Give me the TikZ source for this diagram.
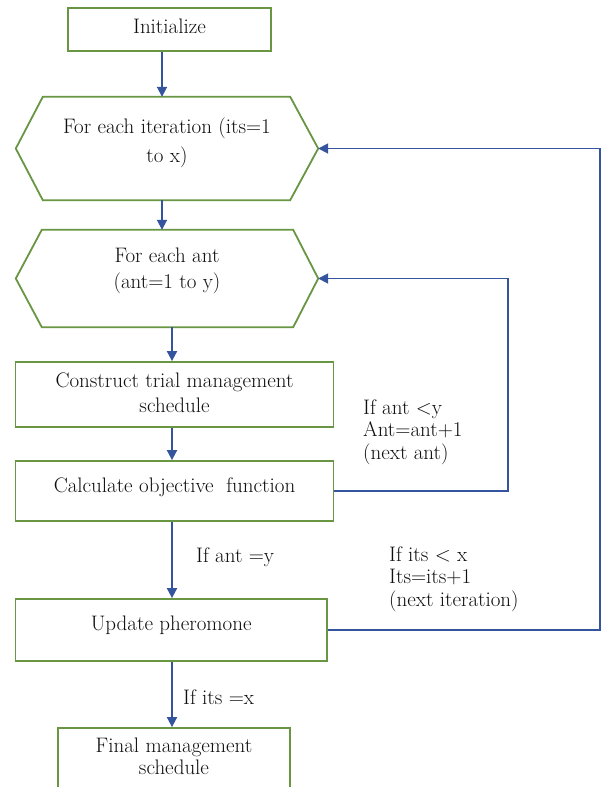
\documentclass[tikz,border=0pt]{standalone}
\usetikzlibrary{arrows.meta}
\definecolor{boxgreen}{RGB}{104,150,66}
\definecolor{linkblue}{RGB}{52,84,158}
\definecolor{txtcol}{RGB}{15,15,15}
\newcommand{\boxtext}[2]{\smash{\raisebox{#1}{\begin{tabular}{@{}c@{}}#2\end{tabular}}}}
\begin{document}
\begin{tikzpicture}[x=1pt,y=-1pt,
  every node/.style={font=\fontsize{21}{25}\selectfont, text=txtcol, inner sep=0pt},
  procbox/.style={draw=boxgreen, line width=1.8pt, rectangle},
  hexbox/.style={rectangle},
  hexline/.style={draw=boxgreen, line width=1.8pt, line join=miter},
  arr/.style={draw=linkblue, line width=1.8pt, -{Triangle[length=10pt,width=10pt]}},
  cond/.style={align=left, anchor=west, font=\fontsize{21}{22.5}\selectfont}
]
\useasboundingbox (0,0) rectangle (605,787);
\fill[white] (0,0) rectangle (605,787);

% columns
\coordinate (colA) at (162,0);
\coordinate (colB) at (172,0);
\coordinate (rin) at (508,0);
\coordinate (rout) at (600,0);

% nodes
\node[procbox, minimum width=203pt, minimum height=43pt] (init) at (169.5,29.5) {\boxtext{-4pt}{Initialize}};

\node[hexbox, minimum width=302pt, minimum height=103pt] (h1) at (167,148.5)
  {\boxtext{0pt}{For each iteration (its=1\\[4pt] to x)}};
\draw[hexline] ([xshift=27pt]h1.north west) -- ([xshift=-28pt]h1.north east) -- (h1.east)
  -- ([xshift=-28pt]h1.south east) -- ([xshift=27pt]h1.south west) -- (h1.west) -- cycle;

\node[hexbox, minimum width=302pt, minimum height=97pt] (h2) at (167,278.5)
  {\boxtext{3pt}{For each ant\\[1pt] (ant=1 to y)}};
\draw[hexline] ([xshift=26pt]h2.north west) -- ([xshift=-25pt]h2.north east) -- (h2.east)
  -- ([xshift=-25pt]h2.south east) -- ([xshift=26pt]h2.south west) -- (h2.west) -- cycle;

\node[procbox, minimum width=318pt, minimum height=65pt] (cons) at (174.5,394.5)
  {\boxtext{-6pt}{Construct trial management\\ schedule}};
\node[procbox, minimum width=318pt, minimum height=60pt] (calc) at (174.5,491)
  {\boxtext{-1.5pt}{Calculate objective\ \ function}};
\node[procbox, minimum width=311.5pt, minimum height=62pt] (upd) at (171.25,630)
  {\boxtext{-1pt}{Update pheromone}};
\node[procbox, minimum width=232.5pt, minimum height=64pt] (fin) at (174,760)
  {\boxtext{-4pt}{Final management\\[-3pt] schedule}};

% condition labels
\node[cond] (c1) at (363,432) {If ant <y\\Ant=ant+1\\(next ant)};
\node[cond] (c2) at (196,557) {If ant =y};
\node[cond] (c3) at (389,579) {If its < x\\Its=its+1\\(next iteration)};
\node[cond] (c4) at (183,697) {If its =x};

% connectors
\draw[arr] (init.south -| colA) -- (h1.north -| colA);
\draw[arr] (h1.south -| colA) -- (h2.north -| colA);
\draw[arr] (h2.south -| colB) -- (cons.north -| colB);
\draw[arr] (cons.south -| colB) -- (calc.north -| colB);
\draw[arr] (calc.south -| colB) -- (upd.north -| colB);
\draw[arr] (upd.south -| colB) -- (fin.north -| colB);
\draw[arr] (calc.east) -| (rin |- h2.east) -- (h2.east);
\draw[arr] (upd.east) -| (rout |- h1.east) -- (h1.east);
\end{tikzpicture}
\end{document}
